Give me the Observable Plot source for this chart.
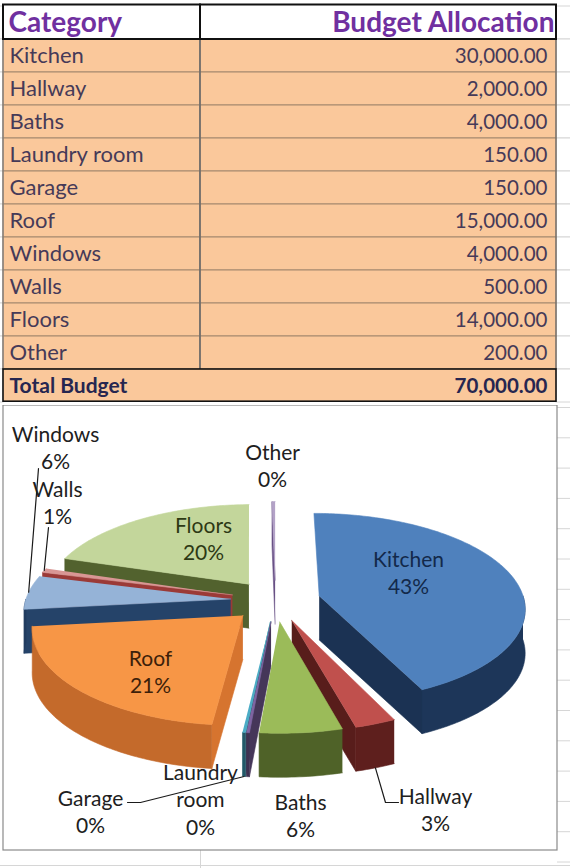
<!DOCTYPE html>
<html>
<head>
<meta charset="utf-8">
<script src="https://cdn.jsdelivr.net/npm/d3@7"></script>
<script src="https://cdn.jsdelivr.net/npm/@observablehq/plot@0.6"></script>
<style>
  body { margin: 0; background: #fff; }
  #sheet svg { display: block; }
</style>
</head>
<body>
<div id="sheet"></div>
<script>
const categories = ["Kitchen", "Hallway", "Baths", "Laundry room", "Garage", "Roof", "Windows", "Walls", "Floors", "Other"];
const budget = [30000, 2000, 4000, 150, 150, 15000, 4000, 500, 14000, 200];
const headers = ["Category", "Budget Allocation"];
const totalLabel = "Total Budget";

// Excel 2007 palette: top face / side wall
const topColors = ["#4f81bd", "#c0504d", "#9bbb59", "#8064a2", "#4bacc6", "#f79646", "#95b3d7", "#d99694", "#c3d69b", "#b3a2c7"];
const sideColors = ["#1d3659", "#5e1f1d", "#4f6228", "#3f3151", "#215968", "#c46a2b", "#223d60", "#8e3532", "#4b5a2a", "#5f497a"];

const rows = categories.map((c, i) => ({category: c, value: budget[i], i}));
const total = d3.sum(budget);
const money = d3.format(",.2f");
const pct = d3.format(".0%");

const PEACH = "#fac89b";
const FONT = "Lato, 'Open Sans', sans-serif";

// ---------- the table ----------
const rowKeys = ["header", ...categories, "total"];

const table = Plot.plot({
  width: 570,
  height: 405,
  margin: 0,
  x: {type: "linear", domain: [0, 570], range: [0, 570], axis: null},
  y: {type: "band", domain: rowKeys, range: [3, 405], padding: 0, axis: null},
  style: {background: "white", fontFamily: FONT},
  marks: [
    // sheet gridlines around the table
    Plot.barX(rowKeys, {x1: 556, x2: 575, y: d => d, fill: "white", stroke: "#d6d6d6"}),
    Plot.barX(rowKeys, {x1: -5, x2: 3, y: d => d, fill: "white", stroke: "#d6d6d6"}),

    // body cells
    Plot.barX(categories, {x1: 3, x2: 200, y: d => d, fill: PEACH, stroke: "#a3886f"}),
    Plot.barX(categories, {x1: 200, x2: 556, y: d => d, fill: PEACH, stroke: "#a3886f"}),
    Plot.barX(categories, {x1: 199.2, x2: 200.8, y: d => d, fill: "#6a6a6a"}),
    Plot.barX(categories, {x1: 2.4, x2: 3.6, y: d => d, fill: "#7a7a7a"}),
    Plot.barX(categories, {x1: 555.4, x2: 556.6, y: d => d, fill: "#6a6a6a"}),

    // header row
    Plot.barX(["header"], {x1: 3, x2: 200, y: d => d, fill: "white", stroke: "#111", strokeWidth: 2, insetTop: -1.5}),
    Plot.barX(["header"], {x1: 200, x2: 556, y: d => d, fill: "white", stroke: "#111", strokeWidth: 2, insetTop: -1.5}),

    // total row
    Plot.barX(["total"], {x1: 3, x2: 556, y: d => d, fill: PEACH, stroke: "#111", strokeWidth: 1.6, insetBottom: 0.8}),

    // texts
    Plot.text([headers[0]], {x: 8, y: () => "header", text: d => d, textAnchor: "start",
      fontSize: 28, fontWeight: "bold", fill: "#7030a0"}),
    Plot.text([headers[1]], {x: 554, y: () => "header", text: d => d, textAnchor: "end",
      fontSize: 28, fontWeight: "bold", fill: "#7030a0"}),
    Plot.text(rows, {x: 9, y: "category", text: "category", textAnchor: "start",
      fontSize: 22, fill: "#463a58"}),
    Plot.text(rows, {x: 547, y: "category", text: d => money(d.value), textAnchor: "end",
      fontSize: 20.5, fill: "#463a58"}),
    Plot.text([totalLabel], {x: 9, y: () => "total", text: d => d, textAnchor: "start",
      fontSize: 21, fontWeight: "bold", fill: "#262650"}),
    Plot.text([total], {x: 547, y: () => "total", text: d => money(d), textAnchor: "end",
      fontSize: 20.5, fontWeight: "bold", fill: "#262650"})
  ]
});

// ---------- the exploded 3-D pie ----------
const CX = 275, CY = 600, RX = 205, RY = 95, PERSP = 0.12, EXPLODE = 0.22, DEPTH = 44;

function pt(a, r, mid, dz) {
  const u = EXPLODE * Math.sin(mid) + r * Math.sin(a);
  const v = -EXPLODE * Math.cos(mid) - r * Math.cos(a);
  const s = 1 + PERSP * v;
  return {x: CX + RX * u * s, y: CY + RY * v * s + dz};
}
function rim(a0, a1, mid, dz) {
  const n = Math.max(2, Math.ceil((a1 - a0) / (Math.PI / 180)) + 1);
  return d3.range(n).map(k => pt(a0 + (a1 - a0) * k / (n - 1), 1, mid, dz));
}

const arcs = d3.pie().sort(null).value(d => d.value)(rows)
  .map(a => ({...a, mid: (a.startAngle + a.endAngle) / 2}));

const polys = [];
let pid = 0;
function addPoly(points, color) {
  const id = pid++;
  for (const p of points) polys.push({id, color, x: p.x, y: p.y});
}

// painter's order: back slices first
for (const a of d3.sort(arcs, a => -Math.cos(a.mid))) {
  const i = a.data.i, a0 = a.startAngle, a1 = a.endAngle, m = a.mid;
  const side = sideColors[i];
  if (Math.sin(a0) < -1e-9)
    addPoly([pt(a0, 0, m, 0), pt(a0, 1, m, 0), pt(a0, 1, m, DEPTH), pt(a0, 0, m, DEPTH)], d3.color(side).brighter(0.25).formatHex());
  if (Math.sin(a1) > 1e-9)
    addPoly([pt(a1, 0, m, 0), pt(a1, 1, m, 0), pt(a1, 1, m, DEPTH), pt(a1, 0, m, DEPTH)], d3.color(side).darker(0.2).formatHex());
  const lo = Math.max(a0, Math.PI / 2), hi = Math.min(a1, 3 * Math.PI / 2);
  if (hi > lo) addPoly([...rim(lo, hi, m, 0), ...rim(lo, hi, m, DEPTH).reverse()], side);
  addPoly([pt(0, 0, m, 0), ...rim(a0, a1, m, 0)], topColors[i]);
}

const arcOf = Object.fromEntries(arcs.map(a => [a.data.category, a]));

// data labels (Excel places them; positions)
const labelPos = {
  "Kitchen": [408, 571], "Hallway": [435, 808], "Baths": [300, 814], "Laundry room": [200, 798],
  "Garage": [90, 810], "Roof": [150, 670], "Windows": [55, 446], "Walls": [57, 501],
  "Floors": [203, 537], "Other": [272, 464]
};
const labelInk = {"Kitchen": "#13294a", "Roof": "#3d1f0a", "Floors": "#2d3914"};
const labels = rows.map(d => ({
  text: `${d.category.replace(" ", "\n")}\n${pct(d.value / total)}`,
  x: labelPos[d.category][0],
  y: labelPos[d.category][1],
  ink: labelInk[d.category] || "#202020"
}));

// leader lines: from the slice to the label
function leader(cat, dz, ends) {
  const a = arcOf[cat];
  return [pt(a.mid, 1, a.mid, dz), ...ends.map(([x, y]) => ({x, y}))].map(p => ({cat, ...p}));
}
const leaders = [
  ...leader("Windows", 0, [[38, 468]]),
  ...leader("Walls", 0, [[48, 527]]),
  ...leader("Garage", DEPTH, [[140, 802], [127, 802]]),
  ...leader("Hallway", DEPTH, [[385, 802], [398, 802]])
];

const chart = Plot.plot({
  width: 570,
  height: 463,
  margin: 0,
  x: {domain: [0, 570], range: [0, 570], axis: null},
  y: {domain: [405, 868], range: [0, 463], axis: null},
  color: {type: "identity"},
  style: {background: "white", fontFamily: FONT},
  marks: [
    // sheet gridlines around the chart object
    Plot.ruleY(d3.range(407, 868, 30.3), {x1: 557, x2: 570, stroke: "#d6d6d6"}),
    Plot.ruleY([865], {stroke: "#d6d6d6"}),
    Plot.ruleX([200], {y1: 850, y2: 868, stroke: "#d6d6d6"}),
    Plot.rect([0], {x1: 3, x2: 557, y1: 405, y2: 850, fill: "white", stroke: "#8a8a8a", strokeWidth: 1.2}),

    Plot.line(polys, {x: "x", y: "y", z: "id", fill: "color", stroke: "color", strokeWidth: 0.6}),
    Plot.line(leaders, {x: "x", y: "y", z: "cat", stroke: "#1a1a1a", strokeWidth: 1.2}),
    Plot.text(labels, {x: "x", y: "y", text: "text", fill: "ink", fontSize: 21, lineHeight: 1.32})
  ]
});

const sheet = d3.select("#sheet");
sheet.append(() => table);
sheet.append(() => chart);
</script>
</body>
</html>
